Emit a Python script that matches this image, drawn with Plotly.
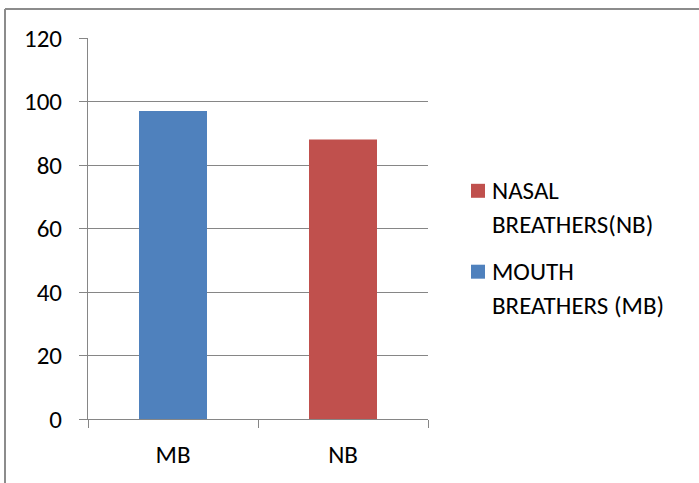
import plotly.graph_objects as go

categories = ["MB", "NB"]
values = [97, 88]
colors = ["#4F81BD", "#C0504D"]
legend_names = ["NASAL<br>BREATHERS(NB)", "MOUTH<br>BREATHERS (MB)"]
legend_colors = ["#C0504D", "#4F81BD"]
y_ticks = [0, 20, 40, 60, 80, 100, 120]

W, H = 699, 483
L, R, T, B = 88, 428, 38, 419.5
FONT = "Carlito, Calibri, Lato, sans-serif"
FS = 25
GRID = "#868686"

def px_x(p):
    return (p - L) / (R - L)

def px_y(p):
    return (B - p) / (B - T)

fig = go.Figure()
fig.add_trace(go.Bar(x=categories, y=values, marker=dict(color=colors, line=dict(width=0)),
                     width=0.4, showlegend=False, hoverinfo="skip"))

shapes = []
annotations = []
# outer chart border (left and top visible)
shapes.append(dict(type="line", xref="paper", yref="paper", x0=px_x(5), x1=px_x(720),
                   y0=px_y(9), y1=px_y(9), line=dict(color="#8C8C8C", width=2)))
shapes.append(dict(type="line", xref="paper", yref="paper", x0=px_x(5), x1=px_x(5),
                   y0=px_y(9), y1=px_y(500), line=dict(color="#8C8C8C", width=2)))

sq_tops = [184, 265]
for i, (name, col) in enumerate(zip(legend_names, legend_colors)):
    top = sq_tops[i]
    shapes.append(dict(type="rect", xref="paper", yref="paper", x0=px_x(471), x1=px_x(485),
                       y0=px_y(top), y1=px_y(top + 14), fillcolor=col, line=dict(width=0)))
    for j, line in enumerate(name.split("<br>")):
        cy = top + 7 + j * 33.5
        annotations.append(dict(text=line, xref="paper", yref="paper", x=px_x(490), y=px_y(cy),
                                xanchor="left", yanchor="middle", showarrow=False,
                                font=dict(family=FONT, size=FS, color="#000000")))

fig.update_layout(
    width=W, height=H,
    margin=dict(l=L, r=W - R, t=T, b=H - B, pad=0),
    paper_bgcolor="white", plot_bgcolor="white",
    font=dict(family=FONT, size=FS, color="#000000"),
    shapes=shapes, annotations=annotations,
    xaxis=dict(type="category", showgrid=False, showline=True, linecolor=GRID, linewidth=1,
               ticks="outside", tickson="boundaries", ticklen=8, tickcolor=GRID,
               ticklabelstandoff=13, tickfont=dict(family=FONT, size=FS, color="#000")),
    yaxis=dict(range=[0, 120], tickvals=y_ticks, showgrid=True, gridcolor=GRID, gridwidth=1,
               showline=True, linecolor=GRID, linewidth=1, ticks="outside", ticklen=8,
               tickcolor=GRID, zeroline=False, ticklabelstandoff=12,
               tickfont=dict(family=FONT, size=FS, color="#000")),
)
fig.write_html("out.html", config={"displayModeBar": False},
               post_script="document.body.style.margin='0px';")
